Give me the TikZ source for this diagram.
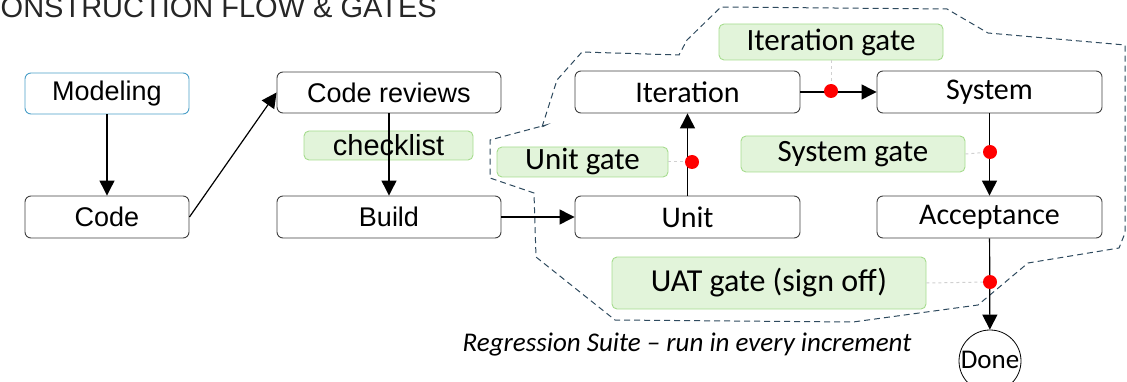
\documentclass[tikz,border=0pt]{standalone}
\usepackage{fontspec}
\setmainfont{Liberation Sans}
\newfontfamily\narrowfont{Carlito}
\usetikzlibrary{arrows.meta}

\definecolor{boxline}{HTML}{404040}
\definecolor{modelblue}{HTML}{4A9FC8}
\definecolor{gatefill}{HTML}{E2F4DA}
\definecolor{gateline}{HTML}{A6DC8E}
\definecolor{zoneline}{HTML}{2E4A5E}
\definecolor{linkgrey}{HTML}{D0D0D0}

\begin{document}
\begin{tikzpicture}[x=1pt,y=-1pt,
  box/.style={draw=boxline, line width=0.9pt, rounded corners=6pt, fill=white, inner sep=0pt, align=center},
  leftbox/.style={box, font=\fontsize{27}{30}\selectfont, minimum height=41pt},
  rightbox/.style={box, font=\narrowfont\fontsize{30}{34}\selectfont, minimum width=225pt, minimum height=42pt},
  gate/.style={draw=gateline, fill=gatefill, line width=0.9pt, rounded corners=5pt, inner sep=0pt, font=\narrowfont\fontsize{31}{34}\selectfont},
  flow/.style={draw=black, line width=1.2pt, -{Triangle[length=15pt,width=15pt]}},
  gatedot/.style={circle, fill=red, inner sep=0pt, minimum size=14pt},
  gatelink/.style={draw=linkgrey, line width=1pt, dashed}
]
\useasboundingbox (0,0) rectangle (1127,382);
\clip (0,0) rectangle (1127,382);

% heading
\node[anchor=base east, font=\fontsize{29}{32}\selectfont, text=black!85, inner sep=0pt] (title) at (437,17.5) {CONSTRUCTION FLOW \& GATES};

% regression zone
\draw[zoneline, line width=1pt, dash pattern=on 6pt off 4pt]
  (542,127) -- (557,80) -- (582,52) -- (679,55) -- (687,40) -- (721,7) -- (947,9)
  -- (988,33) -- (1125,45) -- (1125,233) -- (1119,248) -- (1028,263) -- (978,305)
  -- (853,322) -- (615,320) -- (536,257) -- (534,193) -- (490,178) -- (490,140)
  -- (546,125) -- cycle;

% construction steps
\node[leftbox, draw=modelblue, minimum width=164pt] (modeling) at (107,93.5) {Modeling};
\node[leftbox, minimum width=164pt, minimum height=42pt] (code) at (107,217) {Code};
\node[leftbox, minimum width=224pt] (reviews) at (389,92.5) {Code reviews};
\node[leftbox, minimum width=224pt, minimum height=42pt] (build) at (389,217) {Build};
\node[gate, font=\fontsize{29}{32}\selectfont, minimum width=169pt, minimum height=29pt] (checklist) at (388.5,145.5) {checklist};

% test levels
\node[rightbox] (iteration) at (687.5,92) {Iteration};
\node[rightbox] (system) at (989.5,92) {System};
\node[rightbox] (unit) at (687.5,217) {Unit};
\node[rightbox] (acceptance) at (989.5,217) {Acceptance};
\node[draw=black, line width=0.8pt, circle, minimum size=62pt, inner sep=0pt, font=\narrowfont\fontsize{27}{30}\selectfont] (done) at (990,361) {\raisebox{3pt}{Done}};

% gates
\node[gate, minimum width=224pt, minimum height=36pt] (itgate) at (831,42) {Iteration gate};
\node[gate, minimum width=171pt, minimum height=30pt] (unitgate) at (582.5,162) {Unit gate};
\node[gate, minimum width=224pt, minimum height=36pt] (sysgate) at (853,154) {System gate};
\node[gate, font=\narrowfont\fontsize{32}{35}\selectfont, minimum width=314pt, minimum height=52pt] (uatgate) at (769,283) {UAT gate (sign off)};

% flow
\draw[flow] (modeling) -- (code);
\draw[flow] (code.east) -- (reviews.west);
\draw[flow] (reviews) -- (build);
\draw[flow] (build) -- (unit);
\draw[flow] (unit) -- (iteration);
\draw[flow] (iteration) -- (system);
\draw[flow] (system) -- (acceptance);
\draw[flow] (acceptance) -- (done);

% gate markers
\node[gatedot] (itdot) at (831,91) {};
\node[gatedot] (unitdot) at (692,162) {};
\node[gatedot] (sysdot) at (990,152) {};
\node[gatedot] (uatdot) at (990,282) {};
\draw[gatelink] (itgate.south) -- (itdot);
\draw[gatelink] (unitgate.east) -- (unitdot);
\draw[gatelink] (sysgate.east) -- (sysdot);
\draw[gatelink] (uatgate.east) -- (uatdot);

% caption
\node[font=\narrowfont\itshape\fontsize{27}{30}\selectfont, inner sep=0pt] (caption) at (687,345) {Regression Suite – run in every increment};
\end{tikzpicture}
\end{document}
